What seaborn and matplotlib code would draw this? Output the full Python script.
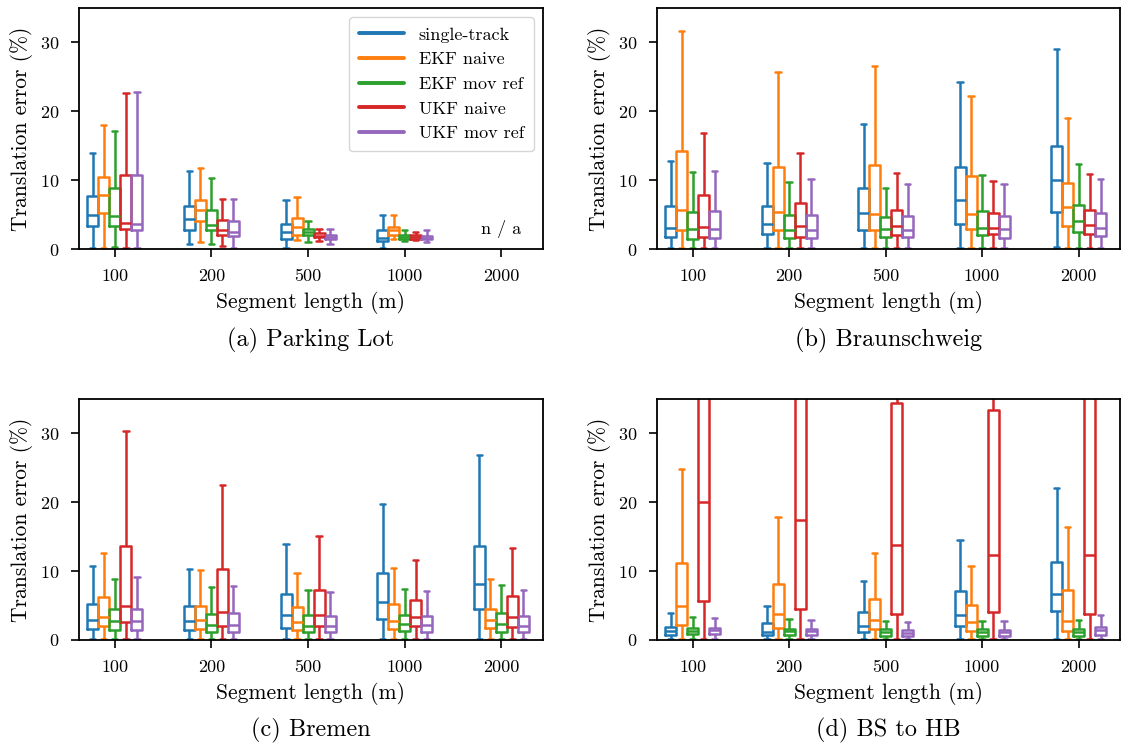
import numpy as np
import pandas as pd
import matplotlib
matplotlib.use("Agg")
import matplotlib.pyplot as plt
from matplotlib.lines import Line2D
import seaborn as sns

# segment lengths and methods
segments = ["100", "200", "500", "1000", "2000"]
methods = ["single-track", "EKF naive", "EKF mov ref", "UKF naive", "UKF mov ref"]

# each entry: (whisker low, q1, median, q3, whisker high) per segment length
# (a) Parking Lot -- no data for 2000 m
pl_single = [(0.1, 3.4, 4.9, 7.7, 14.0), (0.7, 2.8, 4.4, 6.3, 11.4), (0.2, 1.4, 2.4, 3.7, 7.1), (0.1, 1.2, 1.6, 2.7, 4.9)]
pl_ekf_naive = [(0.1, 5.3, 7.8, 10.4, 18.0), (1.0, 4.1, 5.7, 7.1, 11.8), (1.3, 2.1, 3.2, 4.5, 7.6), (1.4, 2.1, 2.8, 3.2, 4.9)]
pl_ekf_mov = [(0.3, 3.4, 4.8, 8.9, 17.1), (0.8, 2.7, 3.5, 5.7, 10.3), (1.0, 2.0, 2.4, 2.9, 4.0), (1.2, 1.4, 1.8, 2.0, 2.7)]
pl_ukf_naive = [(0.1, 2.9, 3.8, 10.8, 22.6), (0.5, 2.1, 2.8, 4.2, 7.2), (1.1, 1.7, 1.9, 2.3, 2.9), (1.3, 1.5, 1.8, 2.0, 2.5)]
pl_ukf_mov = [(0.1, 2.8, 3.7, 10.8, 22.8), (0.2, 1.9, 2.4, 4.1, 7.2), (0.8, 1.5, 1.8, 2.1, 2.9), (1.0, 1.4, 1.6, 1.9, 2.7)]

# (b) Braunschweig
bs_single = [(0.1, 1.8, 3.1, 6.2, 12.75), (0.1, 2.2, 3.7, 6.3, 12.5), (0.1, 2.75, 5.3, 8.8, 18.1), (0.1, 3.7, 7.1, 11.9, 24.3), (0.3, 5.4, 10.0, 14.9, 29.1)]
bs_ekf_naive = [(0.1, 2.8, 5.65, 14.25, 31.6), (0.1, 2.7, 5.4, 11.9, 25.7), (0.2, 2.75, 5.1, 12.2, 26.6), (0.1, 2.85, 5.1, 10.6, 22.2), (0.1, 3.3, 6.1, 9.6, 19.1)]
bs_ekf_mov = [(0.1, 1.5, 2.9, 5.4, 11.2), (0.1, 1.6, 2.8, 4.9, 9.8), (0.1, 1.8, 2.85, 4.6, 8.8), (0.1, 2.0, 3.1, 5.5, 10.7), (0.1, 2.4, 4.0, 6.4, 12.3)]
bs_ukf_naive = [(0.1, 1.7, 3.2, 7.8, 16.9), (0.1, 1.8, 3.3, 6.7, 13.9), (0.1, 2.1, 3.4, 5.6, 11.0), (0.1, 2.2, 3.1, 5.2, 9.9), (0.1, 2.2, 3.5, 5.6, 10.9)]
bs_ukf_mov = [(0.1, 1.6, 2.9, 5.5, 11.4), (0.1, 1.6, 2.8, 5.0, 10.1), (0.1, 1.7, 2.75, 4.8, 9.4), (0.1, 1.6, 2.85, 4.8, 9.5), (0.1, 1.9, 3.1, 5.2, 10.1)]

# (c) Bremen
hb_single = [(0.1, 1.65, 2.95, 5.3, 10.7), (0.1, 1.45, 2.75, 5.0, 10.3), (0.1, 1.75, 3.6, 6.7, 14.0), (0.1, 3.0, 5.5, 9.7, 19.7), (0.2, 4.5, 8.2, 13.6, 26.8)]
hb_ekf_naive = [(0.1, 2.0, 3.4, 6.2, 12.6), (0.1, 1.55, 2.85, 4.9, 10.1), (0.1, 1.5, 2.55, 4.8, 9.8), (0.1, 1.65, 2.7, 5.2, 10.45), (0.1, 1.7, 2.85, 4.5, 8.8)]
hb_ekf_mov = [(0.1, 1.5, 2.7, 4.5, 8.9), (0.1, 1.2, 2.2, 3.8, 7.7), (0.1, 1.1, 2.1, 3.6, 7.3), (0.1, 1.3, 2.3, 3.7, 7.4), (0.1, 1.2, 2.3, 3.9, 8.0)]
hb_ukf_naive = [(0.1, 2.6, 5.0, 13.6, 30.3), (0.1, 2.1, 4.1, 10.3, 22.5), (0.1, 2.0, 3.7, 7.3, 15.1), (0.1, 2.0, 3.3, 5.8, 11.6), (0.2, 1.9, 3.4, 6.4, 13.3)]
hb_ukf_mov = [(0.1, 1.5, 2.7, 4.5, 9.1), (0.1, 1.2, 2.2, 3.9, 7.8), (0.1, 1.2, 2.1, 3.5, 7.0), (0.1, 1.2, 2.2, 3.5, 7.1), (0.1, 1.1, 2.1, 3.5, 7.3)]

# (d) BS to HB -- UKF naive runs off the top of the axis
bh_single = [(0.1, 0.75, 1.35, 1.9, 3.9), (0.1, 0.75, 1.2, 2.5, 4.9), (0.1, 1.15, 2.1, 4.1, 8.6), (0.1, 2.0, 3.6, 7.1, 14.5), (0.1, 4.2, 6.7, 11.3, 22.1)]
bh_ekf_naive = [(0.1, 2.2, 4.9, 11.2, 24.8), (0.1, 1.8, 3.8, 8.2, 17.9), (0.1, 1.55, 2.95, 6.0, 12.7), (0.1, 1.35, 2.55, 5.1, 10.8), (0.1, 1.35, 2.75, 7.3, 16.35)]
bh_ekf_mov = [(0.1, 0.85, 1.35, 1.8, 3.3), (0.1, 0.75, 1.25, 1.6, 3.05), (0.1, 0.6, 1.15, 1.55, 2.8), (0.1, 0.6, 1.15, 1.55, 2.8), (0.1, 0.6, 1.15, 1.55, 2.9)]
bh_ukf_naive = [(0.1, 5.6, 20.1, 45.0, 60.0), (0.1, 4.5, 17.4, 45.0, 60.0), (0.1, 3.8, 13.8, 34.4, 50.0), (0.1, 4.1, 12.3, 33.4, 50.0), (0.2, 3.8, 12.3, 45.0, 60.0)]
bh_ukf_mov = [(0.1, 0.85, 1.45, 1.8, 3.2), (0.1, 0.75, 1.25, 1.6, 2.9), (0.1, 0.6, 1.05, 1.45, 2.6), (0.1, 0.6, 1.1, 1.5, 2.75), (0.1, 0.75, 1.45, 1.85, 3.6)]

panels = [
    ("(a) Parking Lot", [pl_single, pl_ekf_naive, pl_ekf_mov, pl_ukf_naive, pl_ukf_mov]),
    ("(b) Braunschweig", [bs_single, bs_ekf_naive, bs_ekf_mov, bs_ukf_naive, bs_ukf_mov]),
    ("(c) Bremen", [hb_single, hb_ekf_naive, hb_ekf_mov, hb_ukf_naive, hb_ukf_mov]),
    ("(d) BS to HB", [bh_single, bh_ekf_naive, bh_ekf_mov, bh_ukf_naive, bh_ukf_mov]),
]

sns.set_style("ticks")
plt.rcParams["font.family"] = "serif"
plt.rcParams["font.serif"] = ["cmr10"]
plt.rcParams["mathtext.fontset"] = "cm"
plt.rcParams["axes.formatter.use_mathtext"] = True
plt.rcParams["axes.linewidth"] = 1.3
plt.rcParams["axes.edgecolor"] = "black"
plt.rcParams["text.color"] = "black"
plt.rcParams["axes.labelcolor"] = "black"
plt.rcParams["xtick.color"] = "black"
plt.rcParams["ytick.color"] = "black"
plt.rcParams["xtick.major.size"] = 6
plt.rcParams["ytick.major.size"] = 6
plt.rcParams["xtick.major.width"] = 1.2
plt.rcParams["ytick.major.width"] = 1.2

palette = sns.color_palette("tab10", 5)

fig = plt.figure(figsize=(11.25, 7.46), dpi=100)
positions = [
    [0.0702, 0.6662, 0.4124, 0.323],
    [0.584, 0.6662, 0.4116, 0.323],
    [0.0702, 0.1421, 0.4124, 0.323],
    [0.584, 0.1421, 0.4116, 0.323],
]
caption_xy = [(0.2764, 0.544), (0.7898, 0.544), (0.2764, 0.021), (0.7898, 0.021)]

for k, (caption, series) in enumerate(panels):
    ax = fig.add_axes(positions[k])
    # long-form table: the five numbers of each box become its sample
    rows = []
    for m, stats in zip(methods, series):
        for seg, five in zip(segments, stats):
            for v in five:
                rows.append({"segment": seg, "method": m, "error": v})
    df = pd.DataFrame(rows)

    sns.boxplot(data=df, x="segment", y="error", hue="method",
                order=segments, hue_order=methods, palette=palette,
                fill=False, whis=(0, 100), showfliers=False,
                width=0.57, gap=0, linewidth=1.8, legend=False, ax=ax)

    ax.set_ylim(0, 35)
    ax.set_xlim(-0.37, 4.43)
    ax.set_yticks([0, 10, 20, 30])
    ax.set_xlabel("Segment length (m)", fontsize=15.5, labelpad=5)
    ax.set_ylabel("Translation error (%)", fontsize=15.5, labelpad=5)
    ax.tick_params(labelsize=13, pad=8)
    for sp in ax.spines.values():
        sp.set_visible(True)

    fig.text(caption_xy[k][0], caption_xy[k][1], caption, ha="center", va="center", fontsize=17.5)

    if k == 0:
        ax.text(4, 2.9, "n / a", ha="center", va="center", fontsize=13)
        handles = [Line2D([0], [0], color=c, lw=2.8) for c in palette]
        ax.legend(handles, methods, loc="upper right", fontsize=13,
                  handlelength=2.5, labelspacing=0.5, borderpad=0.55,
                  edgecolor="0.8", fancybox=True)

fig.savefig("out.png", dpi=100)
